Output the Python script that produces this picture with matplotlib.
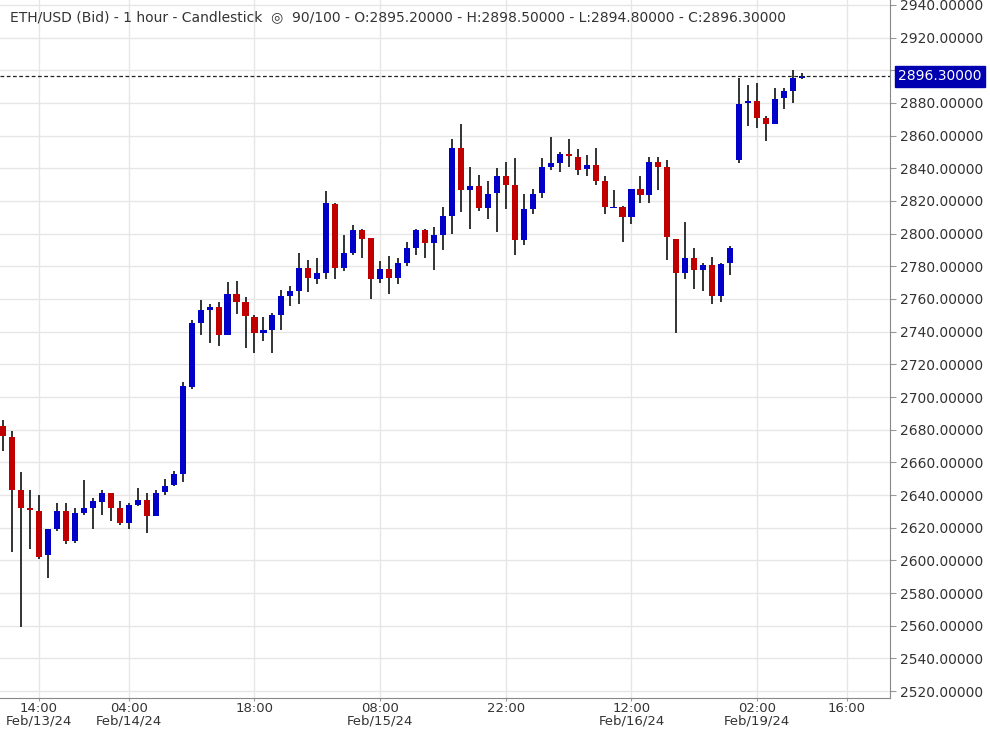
import matplotlib
matplotlib.use("Agg")
import matplotlib.pyplot as plt
import numpy as np

opens = [2682,2675.5,2643,2632,2630,2603,2619,2630,2612,2629,2632,2636,2641,2632,2623,2634,2637,2627,2642,2646,
         2653,2706,2745,2753,2755,2738,2763,2758,2749,2739,2741,2750,2762,2765,2779,2772.5,2776,2818,2779,2788,
         2802,2797.5,2772,2778.5,2773,2782,2791.5,2802,2794,2799,2811,2852.5,2826.5,2829,2815.5,2825,2835,2830,2796,2815,
         2825,2840.5,2843.5,2848.5,2847,2839.5,2842,2832.5,2815.5,2816,2810,2827.5,2823.5,2844,2840.5,2797,2776,2785,2777.5,2781,
         2762,2782,2845,2880,2881,2871,2867,2883,2887,2895.2]
highs = [2686,2679,2654,2643,2640,2619.5,2635,2635,2632,2649,2638,2643,2641.5,2636.5,2635,2644,2641,2643,2650,2655,
         2709,2747,2759.5,2757,2758,2770.5,2771,2761,2750,2749,2751.5,2765.5,2768,2788,2784,2785,2826,2819,2799,2805,
         2803,2797.5,2783.5,2786.5,2785,2795,2803,2803,2804,2816,2858,2867,2841,2836,2832,2840,2844,2846.5,2824.5,2827.5,
         2846,2859,2850,2858,2852,2848,2852.5,2835,2827,2817,2827.5,2835,2847,2847,2845,2797,2807,2791,2782,2786,
         2782,2792.5,2895,2891,2892.5,2872,2889,2889,2900,2898.5]
lows = [2667,2605,2559,2607,2601,2589,2618,2610,2610.5,2627.5,2619,2628,2624,2621.5,2619,2633.5,2616.5,2627,2640,2645.5,
        2648,2705,2738,2733,2731.5,2738,2751,2730,2727,2734,2727,2741,2756,2757,2764.5,2769,2772.5,2772.5,2777,2787,
        2785,2760,2770,2763,2769,2780,2787,2785,2778,2790,2800,2813,2803,2814,2809,2801,2815,2787,2793,2812,
        2822,2839,2837.5,2840.5,2836,2835.5,2830,2812,2815.5,2795,2806,2819,2818.5,2827,2784,2739,2772,2766,2765,2757,
        2758,2774.5,2843.5,2866,2864.5,2856.5,2867,2876,2880,2894.8]
closes = [2676,2643,2632,2631,2602,2619,2630,2612,2629,2632,2636.5,2641,2632,2623,2634,2637,2627,2641.5,2645.5,2653,
          2707,2745.5,2753,2755,2738,2763,2758,2749.5,2739,2741,2750,2762,2765,2779,2773,2776,2819,2779,2788,2802.5,
          2797,2772,2778.5,2773,2782,2791.5,2802,2794,2799,2811,2852.5,2826.5,2829,2815.5,2824.5,2835,2829.5,2796,2815,2824.5,
          2840.5,2843.5,2849,2847.5,2839,2842,2832.5,2816,2816,2810,2827.5,2823.5,2844,2840.5,2798,2776,2785,2777.5,2781,2762,
          2781.5,2791.5,2879.5,2881,2871,2867,2882.5,2887,2895.5,2896.3]

tick_idx = [4, 14, 28, 42, 56, 70, 84, 94]
tick_labels = ["14:00\nFeb/13/24", "04:00\nFeb/14/24", "18:00", "08:00\nFeb/15/24",
               "22:00", "12:00\nFeb/16/24", "02:00\nFeb/19/24", "16:00"]
y_ticks = list(range(2520, 2941, 20))
last_price = 2896.3

BLUE = "#0000c8"
RED = "#c00000"

fig = plt.figure(figsize=(9.9, 7.31), dpi=100)
ax = fig.add_axes([0.0, 0.045, 0.899, 0.955])
x = np.arange(len(opens))
o = np.array(opens); c = np.array(closes); h = np.array(highs); l = np.array(lows)
up = c >= o
ax.vlines(x, l, h, color="#2f3333", linewidth=1.4, zorder=2)
bottoms = np.minimum(o, c)
heights = np.maximum(np.abs(c - o), 0.6)
ax.bar(x, heights, bottom=bottoms, width=0.68,
       color=[BLUE if u else RED for u in up], zorder=3, linewidth=0)

ax.set_xlim(-0.35, 98.8)
ax.set_ylim(2515.7, 2943)
ax.set_xticks(tick_idx)
ax.set_xticklabels(tick_labels, fontsize=9.5, color="#333333", linespacing=0.95)
ax.set_yticks(y_ticks)
ax.set_yticklabels([f"{v:.5f}" for v in y_ticks], fontsize=10, color="#333333")
ax.yaxis.tick_right()
ax.tick_params(axis="y", length=4, color="#999999", pad=3)
ax.tick_params(axis="x", length=2, color="#999999", pad=0.5)
ax.grid(True, color="#e6e6e6", linewidth=1, zorder=0)
ax.set_axisbelow(True)
for s in ["top", "left"]:
    ax.spines[s].set_visible(False)
ax.spines["right"].set_color("#888888")
ax.spines["bottom"].set_color("#888888")

ax.axhline(last_price, color="#222222", linestyle=(0, (3, 2)), linewidth=0.9, zorder=4)
ax.annotate(f"{last_price:.5f}", xy=(1.0, last_price), xycoords=("axes fraction", "data"),
            xytext=(6, 0), textcoords="offset points", va="center", ha="left",
            fontsize=10, color="white", annotation_clip=False, zorder=10,
            bbox=dict(boxstyle="square,pad=0.25", fc="#0000b0", ec="#0000b0"))

ax.text(0.011, 0.985, "ETH/USD (Bid) - 1 hour - Candlestick  ◎  90/100 - O:2895.20000 - H:2898.50000 - L:2894.80000 - C:2896.30000",
        transform=ax.transAxes, fontsize=10, color="#333333", va="top", ha="left",
        family=["DejaVu Sans"])

fig.savefig("out.png", dpi=100)
